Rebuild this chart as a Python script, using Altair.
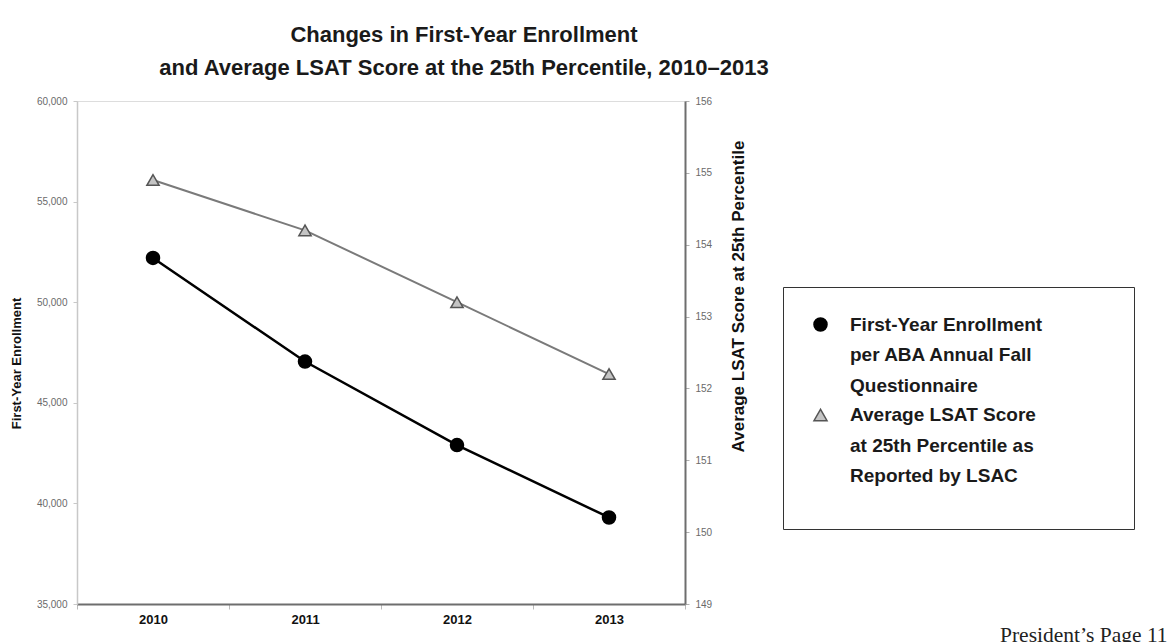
import altair as alt
import pandas as pd

# ---- data ----
years = ["2010", "2011", "2012", "2013"]
enrollment = [52200, 47050, 42900, 39300]
lsat_25th = [154.9, 154.2, 153.2, 152.2]

enroll_ticks = [35000, 40000, 45000, 50000, 55000, 60000]
lsat_ticks = [149, 150, 151, 152, 153, 154, 155, 156]

legend_lines = [
    "First-Year Enrollment",
    "per ABA Annual Fall",
    "Questionnaire",
    "Average LSAT Score",
    "at 25th Percentile as",
    "Reported by LSAC",
]
series_enroll = legend_lines[0]
series_lsat = legend_lines[3]

title_lines = [
    "Changes in First-Year Enrollment",
    "and Average LSAT Score at the 25th Percentile, 2010\u20132013",
]
footer = ["President\u2019s Page  11"]

df_e = pd.DataFrame({"year": years, "value": enrollment, "series": series_enroll})
df_l = pd.DataFrame({"year": years, "value": lsat_25th, "series": series_lsat})
df_f = pd.DataFrame({"t": footer})

FONT = "Liberation Sans"

x_enc = alt.X(
    "year:O",
    bandPosition=0.5,
    scale=alt.Scale(type="band", paddingInner=0, paddingOuter=0),
    axis=alt.Axis(
        title=None, labelAngle=0, tickBand="extent", orient="bottom", grid=False,
        labelFont=FONT, labelFontWeight="bold", labelFontSize=13, labelColor="#111",
        labelPadding=4, tickSize=5, tickColor="#bbbbbb",
        domainColor="#6e6e6e", domainWidth=2,
    ),
)

# widen the legend box: non-breaking spaces kept from trimming by a zero-width space
pad = "\u00a0" * 12 + "\u200b"
label_expr = f"datum.label == '{legend_lines[0]}' ? datum.label + '{pad}' : datum.label"

fill_scale = alt.Scale(domain=legend_lines,
                       range=["#000000", "transparent", "transparent", "#c4c4c4", "transparent", "transparent"])
stroke_scale = alt.Scale(domain=legend_lines,
                         range=["#000000", "transparent", "transparent", "#555555", "transparent", "transparent"])
shape_scale = alt.Scale(domain=legend_lines,
                        range=["circle", "circle", "circle", "triangle-up", "circle", "circle"])

legend = alt.Legend(
    title="\u00a0", titleOrient="bottom", titleFontSize=10, titlePadding=5,
    orient="none", legendX=706, legendY=186,
    strokeColor="#333333", padding=28, rowPadding=9.5,
    labelFont=FONT, labelFontWeight="bold", labelFontSize=19, labelColor="#1a1a1a",
    labelLimit=600, labelOffset=20, labelExpr=label_expr,
    symbolSize=170, symbolStrokeWidth=1.5, symbolOpacity=1,
)

fill_enc = alt.Fill("series:N", scale=fill_scale, legend=legend)
stroke_enc = alt.Stroke("series:N", scale=stroke_scale, legend=legend)
shape_enc = alt.Shape("series:N", scale=shape_scale, legend=legend)

y_left = alt.Y(
    "value:Q",
    scale=alt.Scale(domain=[35000, 60000], zero=False, nice=False),
    axis=alt.Axis(
        orient="left", values=enroll_ticks, format=",.0f", title="First-Year Enrollment",
        grid=False,
        labelFont=FONT, labelFontSize=10, labelColor="#6a6a6a", labelPadding=6,
        tickSize=4, tickColor="#c8c8c8", domainColor="#c8c8c8", domainWidth=1.5,
        titleFont=FONT, titleFontSize=13, titleFontWeight="bold", titleColor="#111",
        titleX=-54, titleY=262, titleAngle=270,
    ),
)
y_right = alt.Y(
    "value:Q",
    scale=alt.Scale(domain=[149, 156], zero=False, nice=False),
    axis=alt.Axis(
        orient="right", values=lsat_ticks, format=".0f",
        title="Average LSAT Score at 25th Percentile", grid=False,
        labelFont=FONT, labelFontSize=10, labelColor="#6a6a6a", labelPadding=6,
        tickSize=4, tickColor="#b0b0b0", domainColor="#6e6e6e", domainWidth=2,
        titleFont=FONT, titleFontSize=17, titleFontWeight="bold", titleColor="#111",
        titleX=62, titleY=195, titleAngle=270,
    ),
)

line_e = alt.Chart(df_e).mark_line(color="#000000", strokeWidth=2.5).encode(x=x_enc, y=y_left)
pts_e = alt.Chart(df_e).mark_point(filled=True, opacity=1, size=170, strokeWidth=1.5).encode(
    x=x_enc, y=y_left, fill=fill_enc, stroke=stroke_enc, shape=shape_enc)
layer_e = alt.layer(line_e, pts_e)

line_l = alt.Chart(df_l).mark_line(color="#7a7a7a", strokeWidth=2).encode(x=x_enc, y=y_right)
pts_l = alt.Chart(df_l).mark_point(filled=True, opacity=1, size=150, strokeWidth=1.5).encode(
    x=x_enc, y=y_right, fill=fill_enc, stroke=stroke_enc, shape=shape_enc)
layer_l = alt.layer(line_l, pts_l)

foot = alt.Chart(df_f).mark_text(
    font="Liberation Serif", fontSize=21.5, align="left", baseline="alphabetic", color="#222"
).encode(text="t:N", x=alt.value(923), y=alt.value(541))

chart = (
    alt.layer(layer_e, layer_l, foot)
    .resolve_scale(y="independent")
    .properties(
        width=608, height=503,
        autosize=alt.AutoSizeParams(type="none"),
        padding={"left": 77, "top": 101, "right": 489, "bottom": 38},
        title=alt.TitleParams(
            text=title_lines, anchor="middle", frame="group", dx=83, offset=16,
            font=FONT, fontSize=22, fontWeight="bold", lineHeight=33, color="#1a1a1a",
        ),
    )
    .configure_view(stroke="#9a9a9a", strokeWidth=1)
    .configure_axis(grid=False)
    .configure(background="white")
)

chart.save("out.html", embed_options={"renderer": "svg", "actions": False})
